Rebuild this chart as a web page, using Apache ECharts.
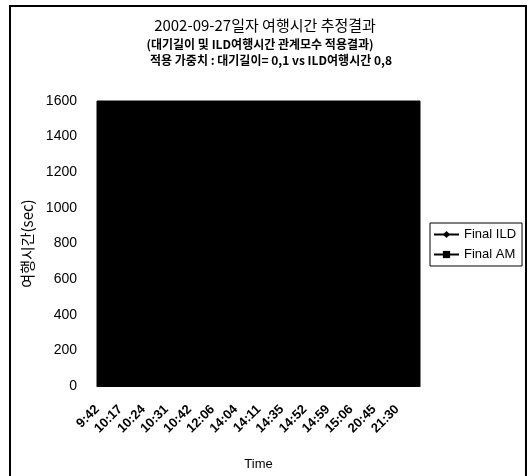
<!DOCTYPE html>
<html>
<head>
<meta charset="utf-8">
<script src="https://cdn.jsdelivr.net/npm/echarts@6/dist/echarts.min.js"></script>
<style>
html,body{margin:0;padding:0;background:#fff;}
#chart{width:527px;height:476px;}
</style>
</head>
<body>
<div id="chart"></div>
<script>
const categories = ['9:42','10:17','10:24','10:31','10:42','12:06','14:04','14:11','14:35','14:52','14:59','15:06','20:45','21:30'];
const finalILD = [390, 420, 450, 470, 430, 400, 380, 410, 440, 460, 430, 420, 380, 370];
const finalAM = [690, 640, 600, 620, 580, 560, 540, 590, 610, 600, 570, 560, 520, 500];
const yMin = 0, yMax = 1600, yStep = 200;
const titleLines = ['2002-09-27일자 여행시간 추정결과', '(대기길이 및 ILD여행시간 관계모수 적용결과)', '적용 가중치 : 대기길이= 0,1 vs ILD여행시간 0,8'];

const chart = echarts.init(document.getElementById('chart'));
const korFont = '"Noto Sans CJK KR", "Liberation Sans", sans-serif';
const latFont = '"Liberation Sans", Arial, sans-serif';
chart.setOption({
  animation: false,
  backgroundColor: '#fff',
  graphic: [
    {type: 'rect', shape: {x: 10, y: 6, width: 516, height: 490}, style: {fill: 'none', stroke: '#000', lineWidth: 2}, silent: true},
    {type: 'text', x: 265, y: 25, style: {text: titleLines[0], font: '15px ' + korFont, fill: '#000', textAlign: 'center', textVerticalAlign: 'middle'}},
    {type: 'text', x: 260, y: 44, style: {text: titleLines[1], font: 'bold 12px ' + korFont, fill: '#000', textAlign: 'center', textVerticalAlign: 'middle'}},
    {type: 'text', x: 271, y: 60, style: {text: titleLines[2], font: 'bold 12px ' + korFont, fill: '#000', textAlign: 'center', textVerticalAlign: 'middle'}}
  ],
  grid: {left: 97, right: 107, top: 101, bottom: 88, show: true, backgroundColor: '#000', borderColor: '#000', borderWidth: 1},
  legend: {
    orient: 'vertical', left: 430, top: 223,
    padding: [5, 6, 5, 3], itemGap: 7, itemWidth: 25, itemHeight: 9,
    borderColor: '#000', borderWidth: 1,
    textStyle: {fontFamily: latFont, fontSize: 13, color: '#000'},
    data: ['Final ILD', 'Final AM']
  },
  xAxis: {
    type: 'category', data: categories, boundaryGap: true,
    name: 'Time', nameLocation: 'middle', nameGap: 72,
    nameTextStyle: {fontFamily: latFont, fontSize: 13, color: '#000'},
    axisLine: {show: true, lineStyle: {color: '#000'}},
    axisTick: {show: false},
    axisLabel: {interval: 0, rotate: 45, margin: 10, padding: [0, 16, 0, 0], fontFamily: latFont, fontSize: 13, fontWeight: 'bold', color: '#000'},
    splitLine: {show: false}
  },
  yAxis: {
    type: 'value', min: yMin, max: yMax, interval: yStep,
    name: '여행시간(sec)', nameLocation: 'middle', nameGap: 47, nameRotate: 90,
    nameTextStyle: {fontFamily: korFont, fontSize: 15, color: '#000'},
    axisLine: {show: false}, axisTick: {show: false}, splitLine: {show: false},
    axisLabel: {margin: 20, fontFamily: latFont, fontSize: 14, color: '#000', formatter: function (v) { return String(v); }}
  },
  series: [
    {name: 'Final ILD', type: 'line', data: finalILD, symbol: 'diamond', symbolSize: 7, itemStyle: {color: '#000'}, lineStyle: {color: '#000', width: 1}},
    {name: 'Final AM', type: 'line', data: finalAM, symbol: 'rect', symbolSize: 6, itemStyle: {color: '#000'}, lineStyle: {color: '#000', width: 1}}
  ]
});
</script>
</body>
</html>
